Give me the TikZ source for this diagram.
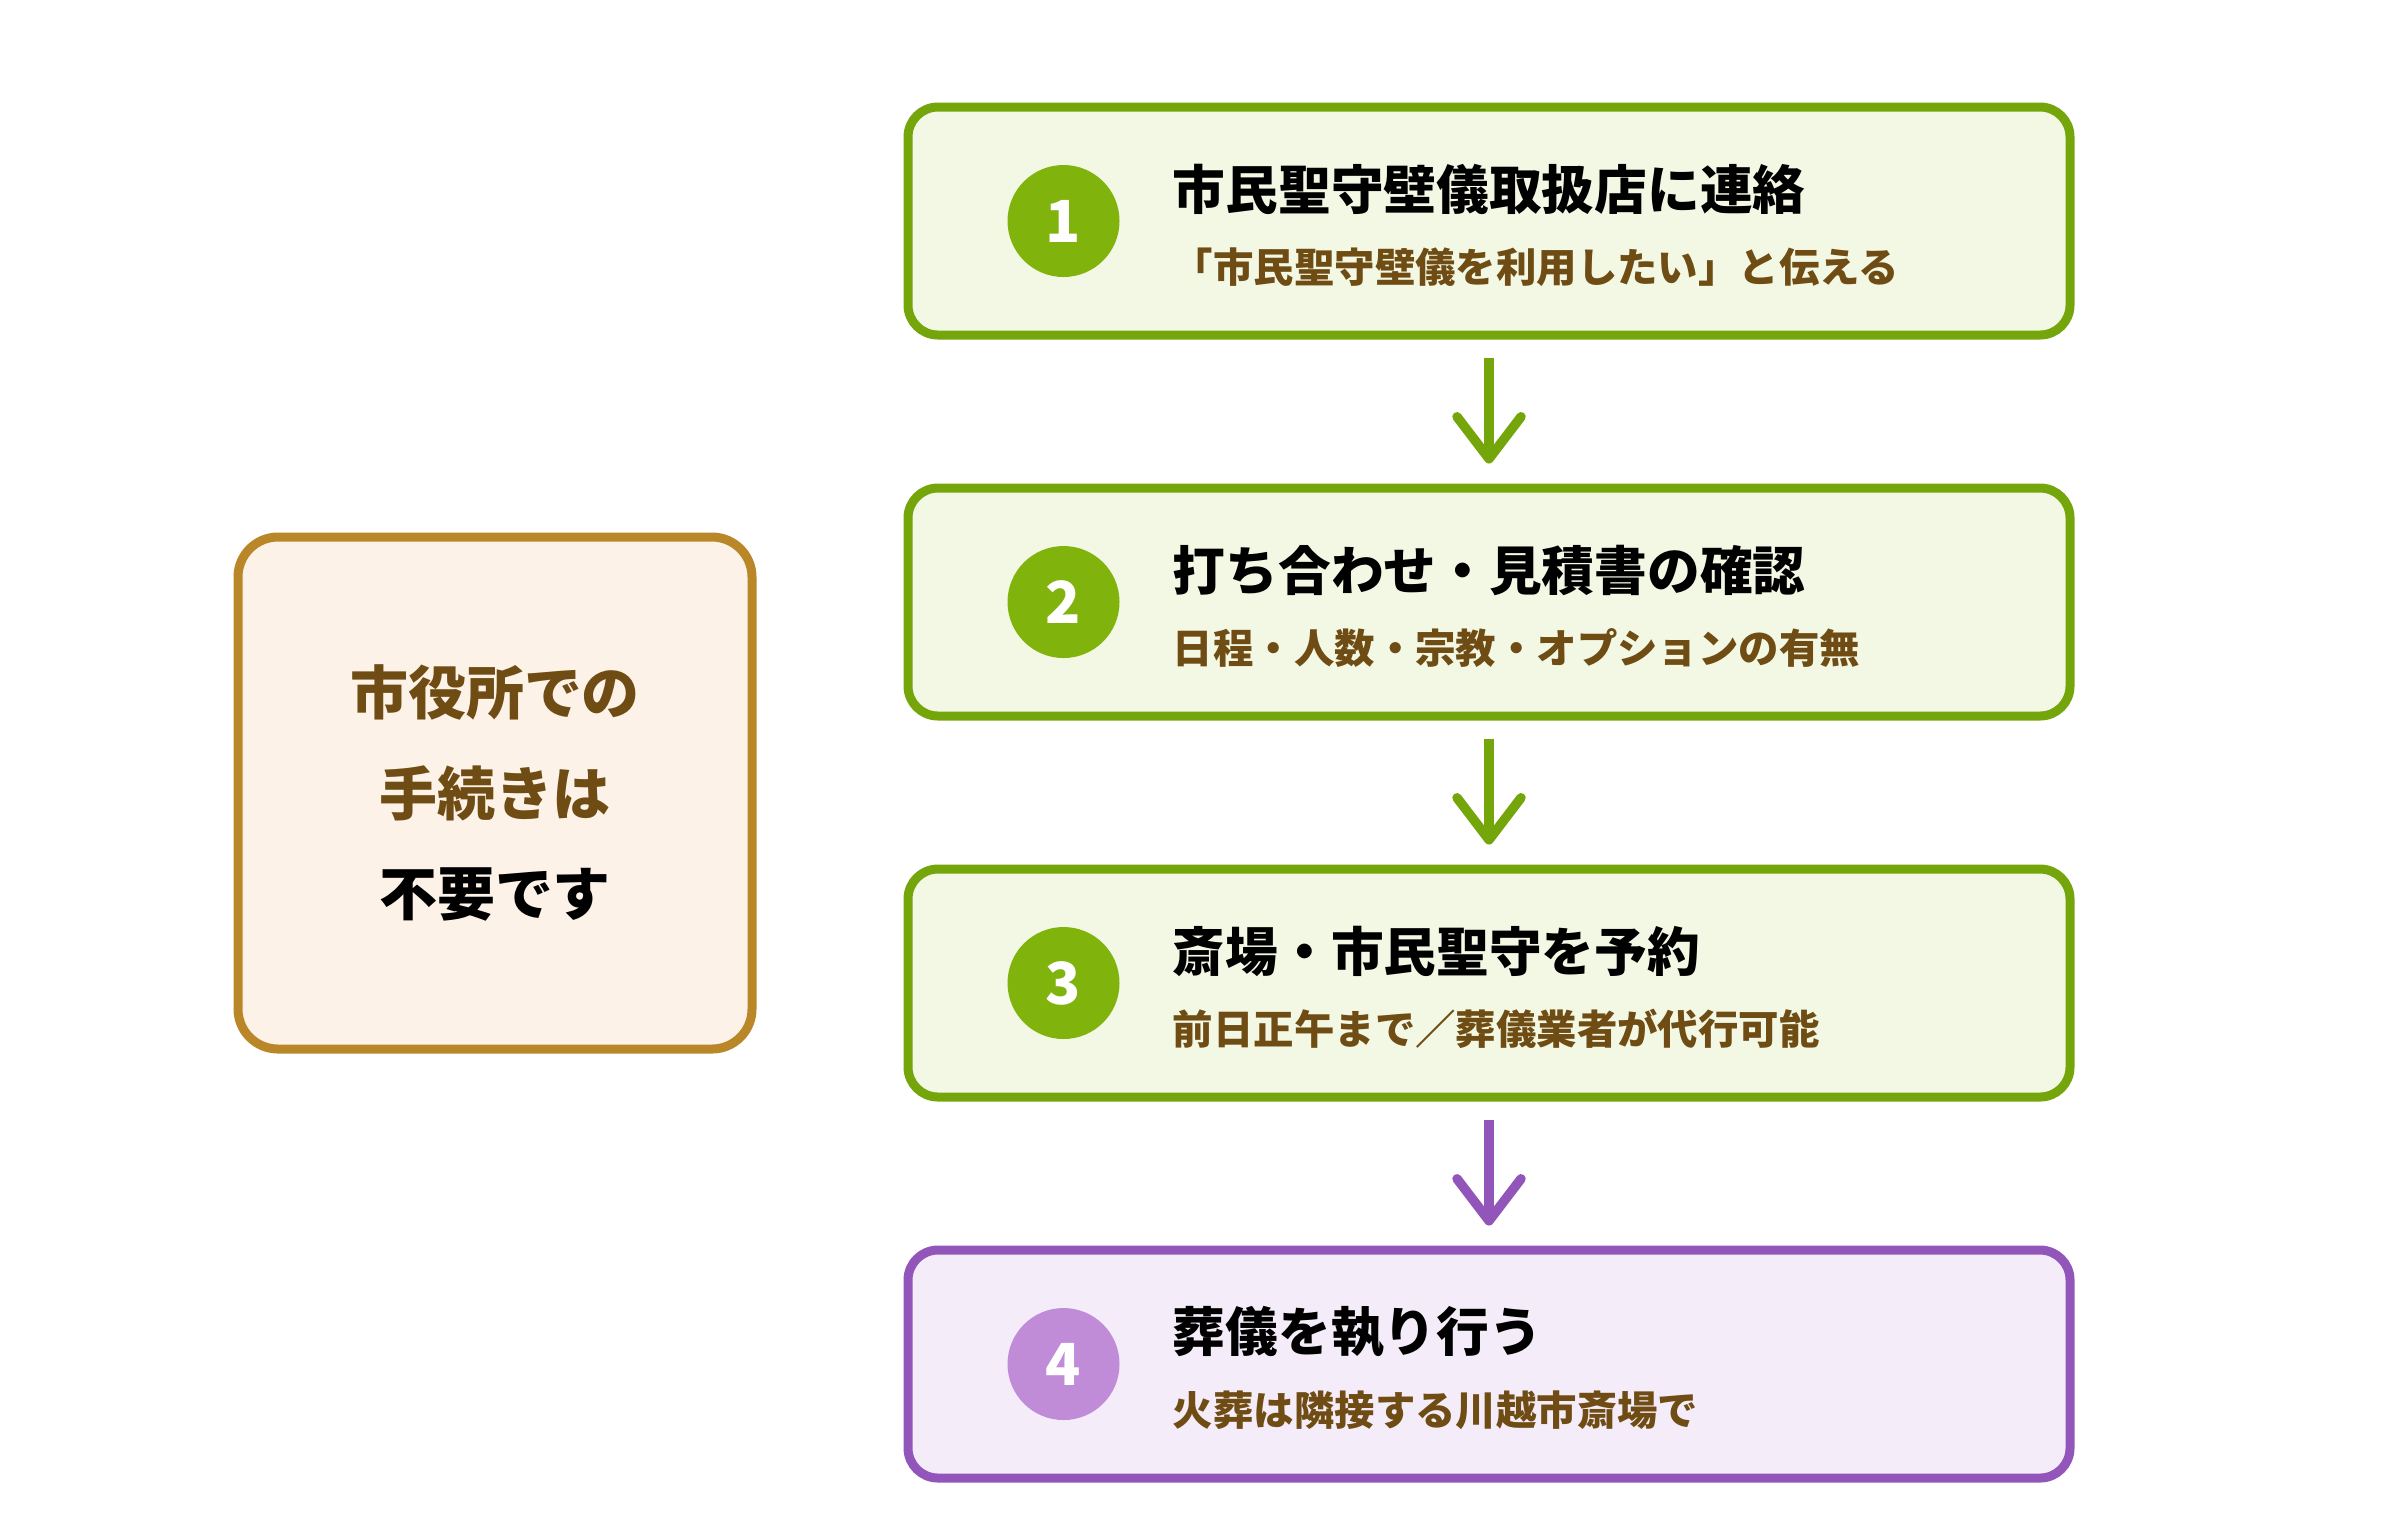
\documentclass[tikz,border=0pt]{standalone}
\usepackage{fontspec}
\setmainfont{Noto Sans CJK JP}
\usetikzlibrary{positioning}
\usetikzlibrary{arrows.meta}

\definecolor{greenLine}{RGB}{116,166,12}
\definecolor{greenDot}{RGB}{128,180,12}
\definecolor{greenFill}{RGB}{242,248,228}
\definecolor{purpleLine}{RGB}{146,86,186}
\definecolor{purpleDot}{RGB}{192,140,216}
\definecolor{purpleFill}{RGB}{245,236,250}
\definecolor{brownLine}{RGB}{185,134,40}
\definecolor{brownFill}{RGB}{252,242,232}
\definecolor{brownText}{RGB}{110,76,20}

\begin{document}
\begin{tikzpicture}[
      >={Straight Barb[length=4.2mm, width=6.4mm, round]},
      node distance = 1.45cm,
      stepbox/.style = {
        rectangle, rounded corners = 3mm, line width = 0.9mm,
        minimum width = 11.62cm, minimum height = 2.28cm
      },
      green step/.style = { draw = greenLine, fill = greenFill },
      purple step/.style = { draw = purpleLine, fill = purpleFill },
      numdot/.style = {
        circle, minimum size = 11.2mm, inner sep = 0, text = white,
        font = \fontsize{16.5pt}{16.5pt}\selectfont\bfseries
      },
      green dot/.style = { fill = greenDot },
      purple dot/.style = { fill = purpleDot },
      head/.style = { anchor = west, inner sep = 0, font = \fontsize{15pt}{18pt}\selectfont\bfseries },
      detail/.style = { anchor = west, inner sep = 0, text = brownText, font = \fontsize{11.5pt}{14pt}\selectfont\bfseries },
      infobox/.style = {
        rectangle, rounded corners = 4mm, line width = 0.9mm,
        draw = brownLine, fill = brownFill, align = center,
        minimum width = 5.14cm, minimum height = 5.12cm,
        font = \fontsize{16.5pt}{28.5pt}\selectfont\bfseries
      },
    ]
    \useasboundingbox (0,0) rectangle (24,-15.17);

    \foreach \c/\head/\detail [count=\i] in {green/市民聖守壁儀取扱店に連絡/「市民聖守壁儀を利用したい」と伝える, green/打ち合わせ・見積書の確認/日程・人数・宗教・オプションの有無, green/斎場・市民聖守を予約/前日正午まで／葬儀業者が代行可能, purple/葬儀を執り行う/火葬は隣接する川越市斎場で} {
      \node[stepbox, \c\space step] (B\i) at (14.89, {-2.21-3.81*(\i-1)}) {};
      \node[numdot, \c\space dot] (N\i) at ([xshift=1.6cm]B\i.west) {\i};
      \node[head] (H\i) at ([shift={(0.52,0.32)}]N\i.east) {\head};
      \node[detail] (D\i) at ([shift={(0.52,-0.46)}]N\i.east) {\detail};
    }

    \foreach \a/\b/\c in {B1/B2/greenLine, B2/B3/greenLine, B3/B4/purpleLine} {
      \draw[->, line width = 0.95mm, \c, shorten <= 1.8mm, shorten >= 2mm] (\a) -- (\b);
    }

    \node[infobox] (Info) at (4.95, -7.93) {\textcolor{brownText}{市役所での}\\\textcolor{brownText}{手続きは}\\不要です};
  \end{tikzpicture}
\end{document}
